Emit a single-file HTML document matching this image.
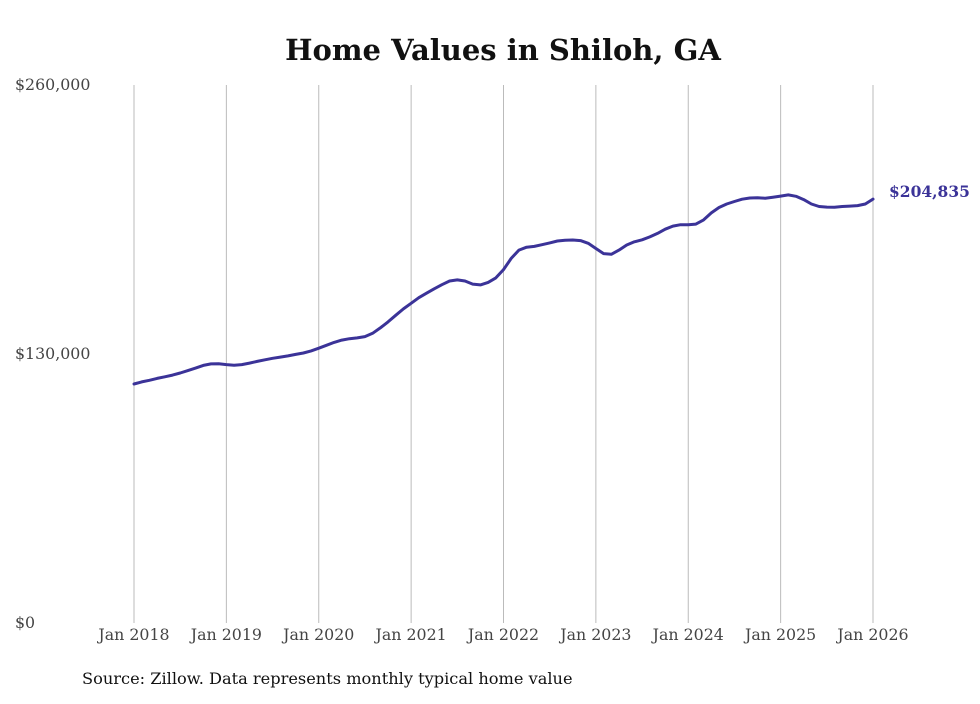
<!DOCTYPE html>
<html><head><meta charset="utf-8"><style>
body{margin:0;background:#fff;}
svg text{font-family:"DejaVu Serif","Liberation Serif",serif;}
</style></head><body>
<svg id="chart" width="980" height="699" xmlns="http://www.w3.org/2000/svg">
<rect width="980" height="699" fill="#fff"/>
<text x="503" y="60" text-anchor="middle" font-size="29" font-weight="bold" fill="#111">Home Values in Shiloh, GA</text>
<g id="grid"></g><g id="yaxis"></g><g id="xaxis"></g><g id="series"></g>
<text x="82" y="684" font-size="16.2" fill="#111">Source: Zillow. Data represents monthly typical home value</text>
</svg>
<script>
const xTickLabels=["Jan 2018","Jan 2019","Jan 2020","Jan 2021","Jan 2022","Jan 2023","Jan 2024","Jan 2025","Jan 2026"];
const yTicks=[0,130000,260000];
const yTickLabels=["$0","$130,000","$260,000"];
const startYear=2018;
const values=[115.5,116.5,117.3,118.2,119,119.8,120.8,122,123.2,124.5,125.2,125.3,
124.9,124.6,124.9,125.6,126.4,127.2,127.9,128.5,129.1,129.8,130.5,131.5,
132.8,134.2,135.6,136.7,137.4,137.8,138.4,140,142.6,145.5,148.7,151.8,
154.5,157.2,159.4,161.5,163.5,165.3,165.8,165.3,163.8,163.4,164.6,166.8,
170.8,176.2,180.2,181.6,182,182.8,183.7,184.6,185,185.1,184.8,183.5,
181,178.5,178.2,180.2,182.7,184.2,185.2,186.6,188.3,190.3,191.8,192.5,
192.5,192.8,194.8,198.2,200.8,202.5,203.7,204.8,205.4,205.5,205.3,205.8,
206.3,206.9,206.2,204.6,202.5,201.3,201,200.9,201.3,201.5,201.7,202.5,
204.835];
const lastLabel="$204,835";
const NS="http://www.w3.org/2000/svg";
const x0=134,x1=873,yTop=85,yBot=623,yMax=260000;
const nMonths=(xTickLabels.length-1)*12;
const xScale=m=>x0+(x1-x0)*m/nMonths;
const yScale=v=>yBot-(yBot-yTop)*v/yMax;
function mk(tag,attrs,parent){const e=document.createElementNS(NS,tag);for(const k in attrs)e.setAttribute(k,attrs[k]);parent.appendChild(e);return e;}
const grid=document.getElementById('grid'),xa=document.getElementById('xaxis'),ya=document.getElementById('yaxis'),se=document.getElementById('series');
xTickLabels.forEach((lab,i)=>{
  const x=xScale(i*12);
  const l=mk('line',{x1:x,x2:x,y1:yTop,y2:yBot,stroke:'#bbb','stroke-width':1},grid);
  
  
  const t=mk('text',{x:x,y:640,'text-anchor':'middle','font-size':15.8,fill:'#444'},xa);
  t.textContent=lab;
  
  
});
yTicks.forEach((v,i)=>{
  const t=mk('text',{x:15,y:yScale(v)+5,'text-anchor':'start','font-size':15.8,fill:'#444'},ya);
  t.textContent=yTickLabels[i];
  
  
});
const d=values.map((v,i)=>(i?'L':'M')+xScale(i).toFixed(1)+','+yScale(v*1000).toFixed(1)).join('');
const p=mk('path',{d:d,fill:'none',stroke:'#3b3398','stroke-width':3,'stroke-linejoin':'round','stroke-linecap':'round'},se);


const li=values.length-1;
const lt=mk('text',{x:xScale(li)+16,y:yScale(values[li]*1000)-2,'font-size':15.5,'font-weight':'bold',fill:'#3b3398'},se);
lt.textContent=lastLabel;


</script>
</body></html>
